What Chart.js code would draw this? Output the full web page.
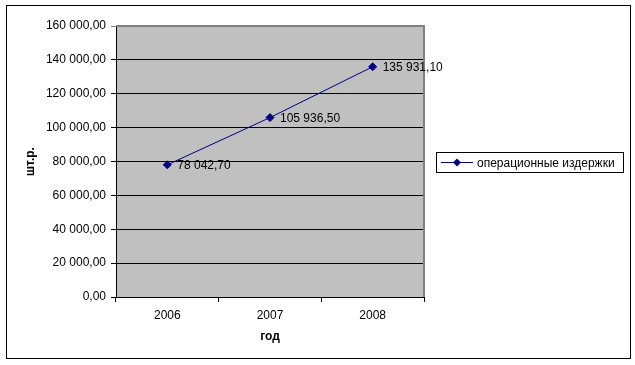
<!DOCTYPE html>
<html>
<head>
<meta charset="utf-8">
<script src="https://cdn.jsdelivr.net/npm/chart.js@4/dist/chart.umd.min.js"></script>
<style>
html,body{margin:0;padding:0;background:#fff;}
#wrap{width:635px;height:365px;position:relative;}
</style>
</head>
<body>
<div id="wrap"><canvas id="c" width="635" height="365"></canvas></div>
<script>
const categories = ['2006', '2007', '2008'];
const seriesName = 'операционные издержки';
const seriesValues = [78042.70, 105936.50, 135931.10];
const yTicks = [0, 20000, 40000, 60000, 80000, 100000, 120000, 140000, 160000];
const xTitle = 'год';
const yTitle = 'шт.р.';

const FONT = '"Liberation Sans", Arial, sans-serif';
const NAVY = '#000080';

function fmt(v) {
  const s = Math.abs(v).toFixed(2).split('.');
  const intPart = s[0].replace(/\B(?=(\d{3})+(?!\d))/g, ' ');
  return (v < 0 ? '-' : '') + intPart + ',' + s[1];
}

const framePlugin = {
  id: 'frame',
  beforeDraw(chart) {
    const ctx = chart.ctx, a = chart.chartArea;
    ctx.save();
    ctx.fillStyle = '#fff';
    ctx.fillRect(0, 0, chart.width, chart.height);
    ctx.fillStyle = '#C0C0C0';
    ctx.fillRect(a.left, a.top, a.right - a.left, a.bottom - a.top);
    ctx.strokeStyle = '#000';
    ctx.lineWidth = 1;
    ctx.strokeRect(6.5, 5.5, 624, 353);
    ctx.restore();
  },
  afterDatasetsDraw(chart) {
    const ctx = chart.ctx, a = chart.chartArea;
    ctx.save();
    ctx.strokeStyle = '#808080';
    ctx.lineWidth = 2;
    ctx.beginPath();
    ctx.moveTo(a.left, a.top);
    ctx.lineTo(a.right, a.top);
    ctx.lineTo(a.right, a.bottom);
    ctx.stroke();
    const meta = chart.getDatasetMeta(0);
    ctx.fillStyle = '#000';
    ctx.font = '12px ' + FONT;
    ctx.textAlign = 'left';
    ctx.textBaseline = 'middle';
    meta.data.forEach((pt, i) => {
      ctx.fillText(fmt(chart.data.datasets[0].data[i]), pt.x + 10, pt.y + 1);
    });
    const lx = a.right + 12, ly = 152, lw = 187, lh = 20;
    ctx.strokeStyle = '#000';
    ctx.lineWidth = 1;
    ctx.strokeRect(lx + 0.5, ly + 0.5, lw, lh);
    const cy = ly + lh / 2 + 0.5;
    ctx.strokeStyle = NAVY;
    ctx.beginPath();
    ctx.moveTo(lx + 5, cy);
    ctx.lineTo(lx + 37, cy);
    ctx.stroke();
    ctx.fillStyle = NAVY;
    ctx.beginPath();
    const mx = lx + 21;
    ctx.moveTo(mx, cy - 4);
    ctx.lineTo(mx + 4, cy);
    ctx.lineTo(mx, cy + 4);
    ctx.lineTo(mx - 4, cy);
    ctx.closePath();
    ctx.fill();
    ctx.fillStyle = '#000';
    ctx.font = '12px ' + FONT;
    ctx.textBaseline = 'middle';
    ctx.fillText(seriesName, lx + 41, cy + 1);
    ctx.restore();
  }
};

new Chart(document.getElementById('c'), {
  type: 'line',
  data: {
    labels: categories,
    datasets: [{
      label: seriesName,
      data: seriesValues,
      borderColor: NAVY,
      backgroundColor: NAVY,
      borderWidth: 1,
      pointStyle: 'rectRot',
      pointRadius: 4,
      pointHoverRadius: 4,
      pointBackgroundColor: NAVY,
      pointBorderColor: NAVY,
      tension: 0,
      fill: false
    }]
  },
  options: {
    responsive: false,
    animation: false,
    events: [],
    layout: { padding: { left: 0, top: 26, right: 211, bottom: 0 } },
    plugins: { legend: { display: false }, tooltip: { enabled: false } },
    scales: {
      x: {
        offset: true,
        grid: {
          offset: true,
          drawOnChartArea: false,
          drawTicks: true,
          tickLength: 5,
          color: '#000'
        },
        border: { color: '#000', width: 1 },
        ticks: { color: '#000', font: { family: FONT, size: 12 }, padding: 6 },
        title: { display: true, text: xTitle, color: '#000', font: { family: FONT, size: 12, weight: 'bold' }, padding: { top: 0, bottom: 21 } },
        afterFit(s) { s.height = 68; }
      },
      y: {
        min: 0,
        max: 160000,
        afterBuildTicks(s) { s.ticks = yTicks.map(v => ({ value: v })); },
        grid: {
          color: ctx => (ctx.tick && ctx.tick.value === 160000 ? '#808080' : '#000'),
          tickLength: 5,
          drawTicks: true
        },
        border: { color: '#000', width: 1 },
        ticks: { color: '#000', font: { family: FONT, size: 12 }, padding: 5, callback: v => fmt(v) },
        title: { display: true, text: yTitle, color: '#000', font: { family: FONT, size: 12, weight: 'bold' }, padding: { top: 23, bottom: 0 } },
        afterFit(s) { s.width = 116; }
      }
    }
  },
  plugins: [framePlugin]
});
</script>
</body>
</html>
